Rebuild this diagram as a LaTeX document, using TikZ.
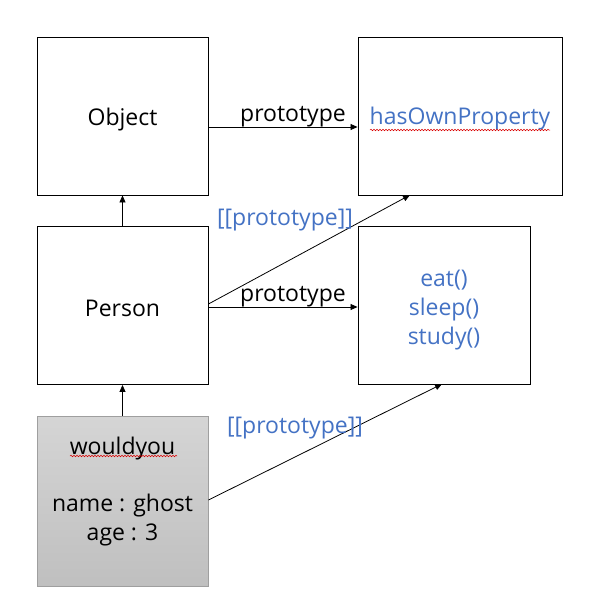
\documentclass[tikz,border=0pt]{standalone}
\usepackage{fontspec}
\setmainfont{Open Sans}
\usetikzlibrary{arrows.meta,decorations.pathmorphing}
\definecolor{mblue}{HTML}{4472C4}
\tikzset{
  box/.style={draw=black, line width=0.9pt, minimum width=171pt, minimum height=158pt, inner sep=0pt, font=\fontsize{23}{29}\selectfont, align=center},
  txt/.style={font=\fontsize{23}{29}\selectfont, align=center, inner sep=0pt},
  con/.style={draw=black, line width=0.8pt, -{Triangle[length=7pt,width=6pt]}},
  lbl/.style={font=\fontsize{23}{27}\selectfont, inner sep=0pt},
  blbl/.style={lbl, text=mblue},
  squig/.style={draw=red!85!black, line width=0.5pt, decorate, decoration={snake, amplitude=0.8pt, segment length=3pt}}
}
\begin{document}
\begin{tikzpicture}[x=1pt,y=-1pt]
\useasboundingbox (0,0) rectangle (595,603);
\node[box] (obj) at (122.5,116) {};
\node[txt] (objt) at (122.5,120) {Object};
\node[box, minimum width=204pt] (hop) at (460,116) {};
\node[txt, text=mblue] (hopt) at (460,119) {hasOwnProperty};
\node[box] (per) at (122.5,305.5) {};
\node[txt] (pert) at (122.5,308) {Person};
\node[box, minimum width=172pt] (eat) at (444,305.5) {};
\node[txt, text=mblue] (eatt) at (444,310) {eat()\\sleep()\\study()};
\node[box, draw=gray!75, top color=gray!33, bottom color=gray!50, minimum height=170pt] (wy) at (122.5,501) {};
\node[txt] (wyt) at (122.5,492) {wouldyou\\[28pt]name : ghost\\age : 3};
% squiggly underlines
\draw[squig] (370,130) -- (550,130);
\draw[squig] (70,456) -- (177,456);
% connectors
\coordinate (hopA) at (410,195);
\coordinate (eatA) at (442,384);
\draw[con] (obj.east |- 0,127) -- (hop.west |- 0,127);
\draw[con] (per.north) -- (obj.south);
\draw[con] (per.east |- 0,307) -- (eat.west |- 0,307);
\draw[con] (per.east |- 0,304) -- (hopA);
\draw[con] (wy.north) -- (per.south);
\draw[con] (wy.east |- 0,500) -- (eatA);
% labels
\node[lbl] (l1) at (293,117) {prototype};
\node[lbl] (l2) at (293,297) {prototype};
\node[blbl] (l3) at (285,220) {[[prototype]]};
\node[blbl] (l4) at (295,428) {[[prototype]]};
\end{tikzpicture}
\end{document}
